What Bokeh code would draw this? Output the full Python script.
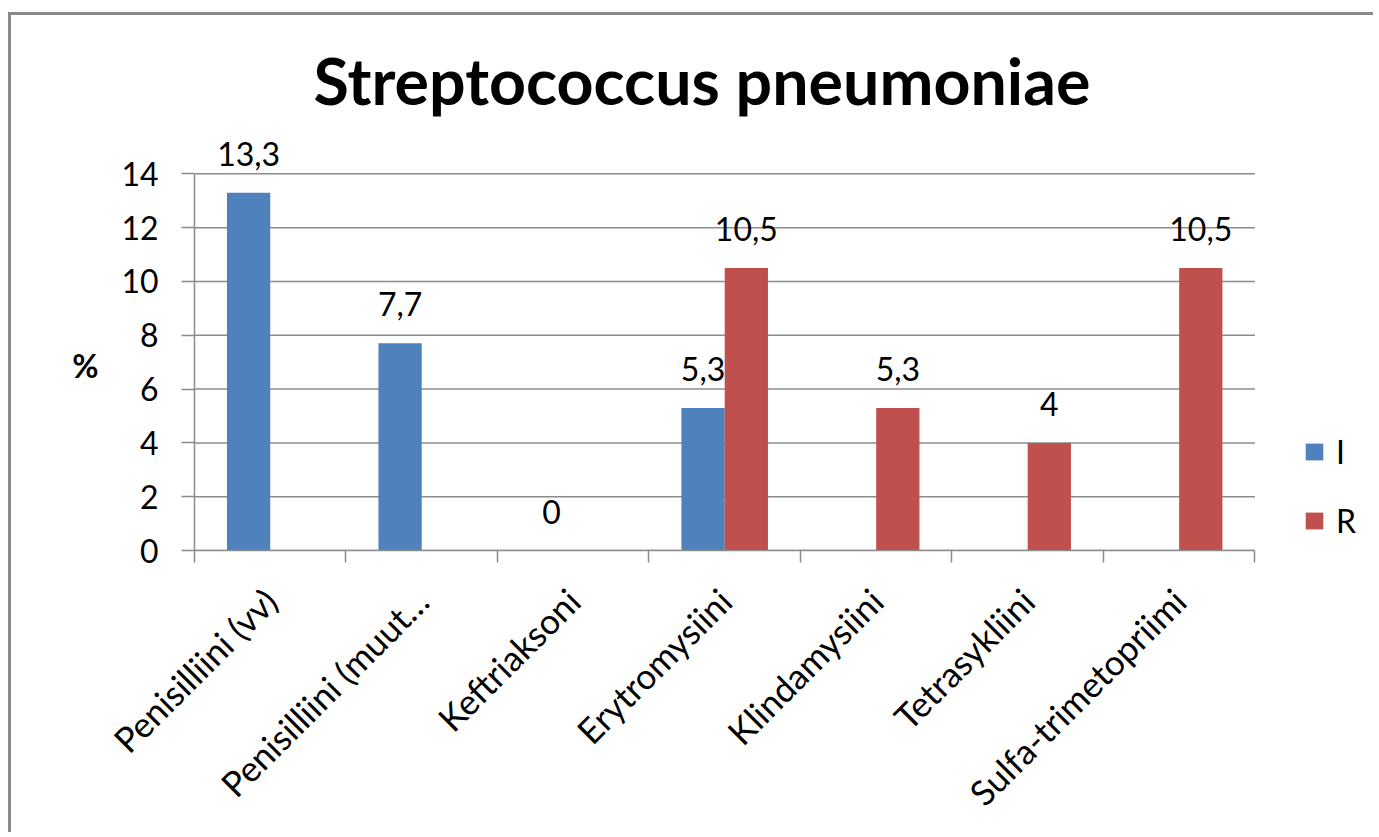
import numpy as np
from bokeh.plotting import figure
from bokeh.models import (ColumnDataSource, FixedTicker, Legend, LegendItem,
                          Range1d, LabelSet)
from bokeh.core.properties import value
from bokeh.embed import file_html
from bokeh.resources import INLINE
from math import pi

# ---- data ----
title_text = "Streptococcus pneumoniae"
categories = ["Penisilliini (vv)", "Penisilliini (muut\u2026", "Keftriaksoni",
              "Erytromysiini", "Klindamysiini", "Tetrasykliini",
              "Sulfa-trimetopriimi"]
series_names = ["I", "R"]
values_I = [13.3, 7.7, 0, 5.3, None, None, None]
values_R = [None, None, None, 10.5, 5.3, 4, 10.5]
y_ticks = [0, 2, 4, 6, 8, 10, 12, 14]
y_label = "%"
colors = ["#4F81BD", "#C0504D"]

FONT = "Lato"
GRID = "#8c8c8c"

idx = list(range(len(categories)))
n = len(categories)
bw = 1 / 3.5  # Excel gap width 150%


def make_source(vals, off):
    xs, ys, labels = [], [], []
    for i, v in zip(idx, vals):
        if v is None:
            continue
        xs.append(i + off)
        ys.append(v)
        labels.append(f"{v:g}".replace(".", ","))
    return ColumnDataSource(dict(x=xs, top=ys, label=labels))


p = figure(width=1365, height=820, output_backend="svg", toolbar_location=None,
           x_range=Range1d(-0.5, n - 0.5 + 0.75),
           y_range=Range1d(0, 15.5),
           min_border_left=183, min_border_right=8,
           min_border_top=118, min_border_bottom=285)
p.background_fill_color = "white"
p.border_fill_color = "white"
p.outline_line_color = None
p.styles = {"border-left": "3px solid #8a8a8a", "border-top": "3px solid #8a8a8a",
            "margin-left": "8px", "margin-top": "12px"}

# horizontal gridlines, limited to the category area
p.xgrid.grid_line_color = None
p.ygrid.grid_line_color = None
p.segment(x0=[-0.5] * len(y_ticks), x1=[n - 0.5] * len(y_ticks),
          y0=y_ticks, y1=y_ticks, line_color=GRID, line_width=1.5)

renderers = []
for name, vals, off, col in zip(series_names, [values_I, values_R],
                                [-bw / 2, bw / 2], colors):
    src = make_source(vals, off)
    r = p.vbar(x="x", top="top", bottom=0, width=bw, source=src,
               fill_color=col, line_color=None)
    renderers.append(r)
    labels = LabelSet(x="x", y="top", text="label", source=src,
                      text_align="center", text_baseline="alphabetic",
                      y_offset=27, text_font=value(FONT), text_font_size="32px",
                      text_color="#000000")
    p.add_layout(labels)

# title
p.title.text = title_text
p.title.text_font = FONT
p.title.text_font_style = "bold"
p.title.text_font_size = "64.5px"
p.title.align = "left"
p.title.standoff = 29
p.title.offset = 119
p.title.text_color = "#000000"

# x axis
xa = p.xaxis[0]
xa.bounds = (-0.5, n - 0.5)
xa.ticker = FixedTicker(ticks=idx, minor_ticks=[i - 0.5 for i in idx] + [n - 0.5])
xa.major_label_overrides = {i: c for i, c in zip(idx, categories)}
xa.major_label_orientation = pi / 4
xa.major_tick_out = 0
xa.major_tick_in = 0
xa.major_tick_line_color = None
xa.minor_tick_out = 12
xa.minor_tick_in = 0
xa.minor_tick_line_color = GRID
xa.minor_tick_line_width = 1.5
xa.axis_line_color = GRID
xa.axis_line_width = 1.5
xa.major_label_text_font = FONT
xa.major_label_text_font_size = "35px"
xa.major_label_text_color = "#000000"
xa.major_label_standoff = 32

# y axis
ya = p.yaxis[0]
ya.bounds = (0, 14)
ya.ticker = FixedTicker(ticks=y_ticks)
ya.major_tick_out = 13
ya.major_tick_in = 0
ya.major_tick_line_color = GRID
ya.major_tick_line_width = 1.5
ya.minor_tick_line_color = None
ya.axis_line_color = GRID
ya.axis_line_width = 1.5
ya.major_label_text_font = FONT
ya.major_label_text_font_size = "32px"
ya.major_label_text_color = "#000000"
ya.major_label_standoff = 23
ya.axis_label = "\n" + y_label
ya.axis_label_orientation = "horizontal"
ya.axis_label_text_font = FONT
ya.axis_label_text_font_style = "bold"
ya.axis_label_text_font_size = "32px"
ya.axis_label_text_color = "#000000"
ya.axis_label_standoff = 20

legend = Legend(items=[LegendItem(label=s, renderers=[r])
                       for s, r in zip(series_names, renderers)],
                location=(1109, 10))
legend.border_line_color = None
legend.background_fill_alpha = 0
legend.glyph_width = 22
legend.glyph_height = 21
legend.label_height = 40
legend.spacing = 29
legend.padding = 0
legend.margin = 0
legend.label_standoff = 11
legend.label_text_font = FONT
legend.label_text_font_size = "32px"
legend.label_text_color = "#000000"
p.add_layout(legend, "center")

open("out.html", "w").write(file_html(p, INLINE))
